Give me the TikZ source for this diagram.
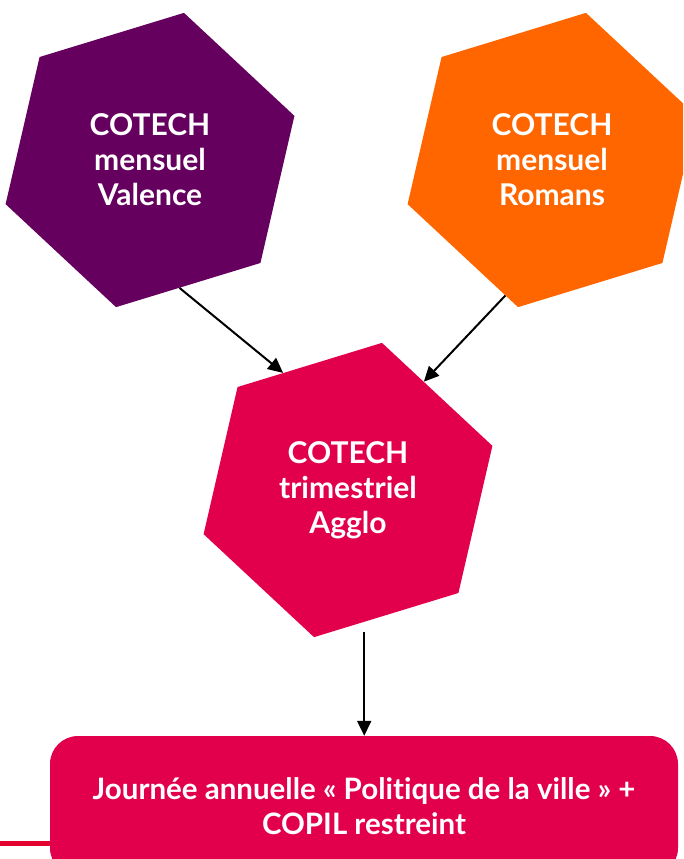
\documentclass[tikz,border=0pt]{standalone}
\usepackage{fontspec}
\setmainfont{Lato}[Ligatures=NoCommon]
\usetikzlibrary{shapes.geometric, arrows.meta}
\definecolor{pv}{HTML}{65005F}
\definecolor{o}{HTML}{FF6600}
\definecolor{r}{HTML}{E2004D}
\definecolor{rl}{HTML}{E4032E}

\begin{document}
\begin{tikzpicture}[x=1pt, y=-1pt,
    hexa/.style={regular polygon, regular polygon sides=6, shape border rotate=17,
        minimum size=302pt, inner sep=0pt, text=white, align=center,
        font=\bfseries\fontsize{30}{35}\selectfont},
    arr/.style={-{Triangle[length=15pt,width=14pt]}, line width=2pt}]
    \useasboundingbox (0,0) rectangle (683,859);
    \clip (0,0) rectangle (683,859);

    % Monthly committees
    \node[hexa, fill=pv] (valence) at (150,160) {COTECH\\mensuel\\Valence};
    \node[hexa, fill=o] (romans) at (552,160) {COTECH\\mensuel\\Romans};

    % Quarterly committee
    \node[hexa, fill=r] (agglo) at (348,490) {COTECH\\trimestriel\\Agglo};

    % Annual day
    \coordinate (lstart) at (0,843);
    \draw[rl, line width=5pt] (lstart) -- (364,843);
    \node[fill=r, rounded corners=28pt, minimum width=628pt, minimum height=140pt,
        text=white, align=center, font=\bfseries\fontsize{29.5}{35}\selectfont]
        (journee) at (364,806) {Journée annuelle «~Politique de la ville~» +\\COPIL restreint};

    % Arrows
    \draw[arr] (valence.-77) -- (agglo.119);
    \draw[arr] (romans.-109) -- (agglo.55);
    \draw[arr, shorten <=10pt] (agglo.-83) -- (agglo.-83 |- journee.north);
\end{tikzpicture}
\end{document}
